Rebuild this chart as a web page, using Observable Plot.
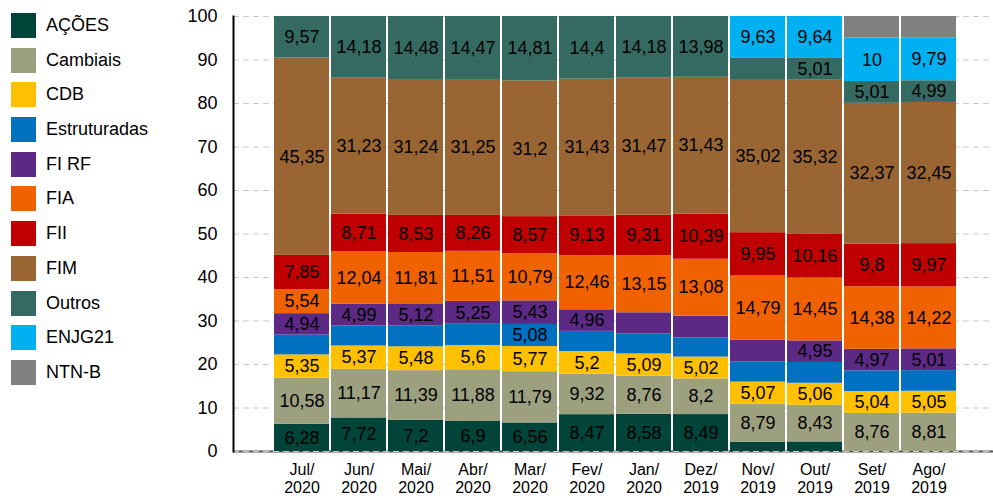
<!DOCTYPE html>
<html><head><meta charset="utf-8">
<script src="https://cdn.jsdelivr.net/npm/d3@7"></script>
<script src="https://cdn.jsdelivr.net/npm/@observablehq/plot@0.6"></script>
<style>
body{margin:0;background:#fff;font-family:"Liberation Sans",Arial,sans-serif;}
#wrap{position:relative;width:993px;height:496px;}
#legend{position:absolute;left:11px;top:13px;}
.item{display:flex;align-items:center;height:25px;margin-bottom:9.7px;font-size:18px;color:#000;}
.sw{width:25px;height:25px;margin-right:10px;flex:none;}
svg{display:block;}
</style></head><body><div id="wrap"><div id="legend"></div></div>
<script>
const months = ["Jul/\n2020","Jun/\n2020","Mai/\n2020","Abr/\n2020","Mar/\n2020","Fev/\n2020","Jan/\n2020","Dez/\n2019","Nov/\n2019","Out/\n2019","Set/\n2019","Ago/\n2019"];
const series = ["AÇÕES","Cambiais","CDB","Estruturadas","FI RF","FIA","FII","FIM","Outros","ENJG21","NTN-B"];
const colors = ["#00443a","#9da07f","#ffc000","#0070c0","#5c2a84","#f06200","#c00000","#996633","#356a62","#00b0f0","#808080"];
const yTicks = [0,10,20,30,40,50,60,70,80,90,100];

const acoes        = [6.28, 7.72, 7.2, 6.9, 6.56, 8.47, 8.58, 8.49, 2.1, 2.2, 0, 0];
const cambiais     = [10.58, 11.17, 11.39, 11.88, 11.79, 9.32, 8.76, 8.2, 8.79, 8.43, 8.76, 8.81];
const cdb          = [5.35, 5.37, 5.48, 5.6, 5.77, 5.2, 5.09, 5.02, 5.07, 5.06, 5.04, 5.05];
const estruturadas = [4.54, 4.59, 4.75, 4.88, 5.08, 4.63, 4.56, 4.37, 4.6, 4.78, 4.72, 4.73];
const fiRf         = [4.94, 4.99, 5.12, 5.25, 5.43, 4.96, 4.9, 5.04, 5.0, 4.95, 4.97, 5.01];
const fia          = [5.54, 12.04, 11.81, 11.51, 10.79, 12.46, 13.15, 13.08, 14.79, 14.45, 14.38, 14.22];
const fii          = [7.85, 8.71, 8.53, 8.26, 8.57, 9.13, 9.31, 10.39, 9.95, 10.16, 9.8, 9.97];
const fim          = [45.35, 31.23, 31.24, 31.25, 31.2, 31.43, 31.47, 31.43, 35.02, 35.32, 32.37, 32.45];
const outros       = [9.57, 14.18, 14.48, 14.47, 14.81, 14.4, 14.18, 13.98, 5.05, 5.01, 5.01, 4.99];
const enjg21       = [0, 0, 0, 0, 0, 0, 0, 0, 9.63, 9.64, 10, 9.79];
const ntnb         = [0, 0, 0, 0, 0, 0, 0, 0, 0, 0, 4.95, 4.98];

// segments whose value is not printed in the reference
const unlabeled = [
  "Estruturadas|0","Estruturadas|1","Estruturadas|2","Estruturadas|3","Estruturadas|5","Estruturadas|6",
  "Estruturadas|7","Estruturadas|8","Estruturadas|9","Estruturadas|10","Estruturadas|11",
  "FI RF|6","FI RF|7","FI RF|8","AÇÕES|8","AÇÕES|9","Outros|8","NTN-B|10","NTN-B|11"
];

const valuesBySeries = [acoes, cambiais, cdb, estruturadas, fiRf, fia, fii, fim, outros, enjg21, ntnb];
const data = [];
series.forEach((s, si) => {
  valuesBySeries[si].forEach((v, mi) => {
    data.push({month: months[mi], series: s, value: v,
      label: (v > 0 && !unlabeled.includes(s + "|" + mi)) ? String(v).replace(".", ",") : ""});
  });
});

const legend = document.getElementById("legend");
series.forEach((s, i) => {
  const d = document.createElement("div");
  d.className = "item";
  d.innerHTML = `<div class="sw" style="background:${colors[i]}"></div><span>${s}</span>`;
  legend.appendChild(d);
});

const chart = Plot.plot({
  width: 993,
  height: 496,
  marginLeft: 233,
  marginRight: 0,
  marginTop: 16,
  marginBottom: 45,
  style: {fontFamily: '"Liberation Sans", Arial, sans-serif', color: "#000", background: "transparent"},
  x: {domain: months, insetLeft: 38, insetRight: 33, paddingInner: 0.035, paddingOuter: 0, label: null},
  y: {domain: [0, 100], label: null},
  color: {domain: series, range: colors},
  marks: [
    Plot.ruleY([0], {stroke: "#555", strokeWidth: 2}),
    Plot.gridY(yTicks, {stroke: "#c8c8c8", strokeOpacity: 1, strokeDasharray: "6,4"}),
    Plot.barY(data, {x: "month", y: "value", z: "series", fill: "series", order: series}),
    Plot.text(data, Plot.stackY({x: "month", y: "value", z: "series", order: series, text: "label", fill: "#000", fontSize: 18})),
    Plot.frame({anchor: "left", stroke: "#000", strokeWidth: 2}),
    Plot.axisY(yTicks, {tickSize: 0, tickPadding: 16, fontSize: 18, tickFormat: d => String(d)}),
    Plot.axisX({tickSize: 0, tickPadding: 10, fontSize: 16, lineHeight: 1.15})
  ]
});
document.getElementById("wrap").insertBefore(chart, legend);
chart.style.position = "absolute";
chart.style.left = "0";
chart.style.top = "0";
</script>
</body></html>
